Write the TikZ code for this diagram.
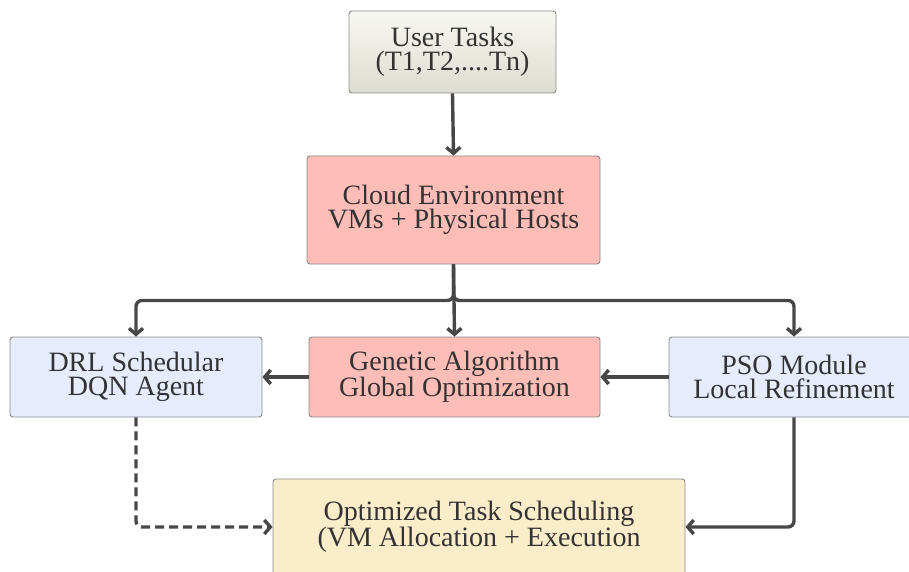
\documentclass[tikz,border=0pt]{standalone}
\usepackage{fontspec}
\setmainfont{LiberationSerif-Regular.ttf}
\usetikzlibrary{arrows.meta}
\definecolor{txt}{HTML}{333333}
\definecolor{bord}{HTML}{8A8A8A}
\definecolor{arr}{HTML}{474747}
\definecolor{pinkf}{HTML}{FFBDB8}
\definecolor{bluef}{HTML}{E6ECFD}
\definecolor{yellf}{HTML}{FBEDC9}
\definecolor{usertop}{HTML}{F8F8F3}
\definecolor{userbot}{HTML}{DDDCD0}
\tikzset{
  boxstyle/.style={draw=bord, line width=0.9pt, rounded corners=3pt, inner sep=0pt,
    align=center, text=txt, font=\fontsize{28}{24.5}\selectfont},
  conn/.style={draw=arr, line width=3.4pt, -{Straight Barb[length=6pt,width=14pt,line width=3.4pt]}, line join=round},
  dashconn/.style={conn, dash pattern=on 9pt off 5pt}
}
\begin{document}
\begin{tikzpicture}[x=1pt,y=-1pt]
\useasboundingbox (0,0) rectangle (909,572);
\begin{scope}
\clip (0,0) rectangle (909,572);
\node[boxstyle, top color=usertop, bottom color=userbot, minimum width=207pt, minimum height=82pt] (user) at (452.5,52) {User Tasks\\(T1,T2,....Tn)};
\node[boxstyle, fill=pinkf, minimum width=293pt, minimum height=108pt] (cloud) at (453.5,210) {Cloud Environment\\VMs + Physical Hosts};
\node[boxstyle, fill=bluef, minimum width=252pt, minimum height=80pt] (drl) at (136,377) {DRL Schedular\\DQN Agent};
\node[boxstyle, fill=pinkf, minimum width=291pt, minimum height=80pt] (gen) at (454.5,377) {Genetic Algorithm\\Global Optimization};
\node[boxstyle, fill=bluef, minimum width=250pt, minimum height=80pt] (pso) at (794,377) {PSO Module\\Local Refinement};
\node[boxstyle, fill=yellf, minimum width=412pt, minimum height=96pt] (out) at (479,527) {Optimized Task Scheduling\\(VM Allocation + Execution};
\end{scope}
\draw[conn] (user.south) -- (cloud.north);
\draw[conn] (cloud.south) -- (gen.north);
\draw[conn, rounded corners=6pt] (cloud.south) -- ++(0,36) -| (drl.north);
\draw[conn, rounded corners=6pt] (cloud.south) -- ++(0,36) -| (pso.north);
\draw[conn] (gen.west) -- (drl.east);
\draw[conn] (pso.west) -- (gen.east);
\draw[dashconn, rounded corners=6pt] (drl.south) |- (out.west);
\draw[conn, rounded corners=6pt] (pso.south) |- (out.east);
\end{tikzpicture}
\end{document}
